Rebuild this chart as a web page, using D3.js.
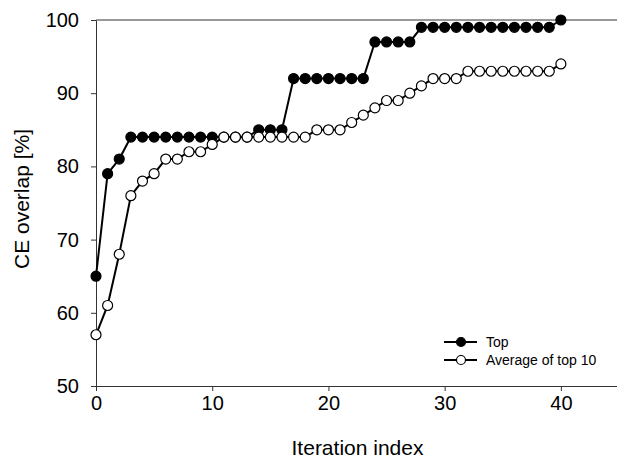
<!DOCTYPE html>
<html>
<head>
<meta charset="utf-8">
<script src="https://cdn.jsdelivr.net/npm/d3@7"></script>
<style>
  body { margin: 0; background: #fff; }
  text { font-family: "Liberation Sans", Arial, sans-serif; fill: #000; }
</style>
</head>
<body>
<div id="chart-area"></div>
<script>
// iteration index 0..40
var iterations = d3.range(0, 41);
var topValues = [65, 79, 81, 84, 84, 84, 84, 84, 84, 84, 84, 84, 84, 84, 85, 85, 85,
    92, 92, 92, 92, 92, 92, 92, 97, 97, 97, 97,
    99, 99, 99, 99, 99, 99, 99, 99, 99, 99, 99, 99, 100];
var avgValues = [57, 61, 68, 76, 78, 79, 81, 81, 82, 82, 83, 84, 84, 84, 84, 84, 84, 84, 84,
    85, 85, 85, 86, 87, 88, 89, 89, 90, 91, 92, 92, 92,
    93, 93, 93, 93, 93, 93, 93, 93, 94];
var xTicks = [0, 10, 20, 30, 40];
var yTicks = [50, 60, 70, 80, 90, 100];
var seriesNames = ["Top", "Average of top 10"];

var width = 617;
var height = 460;
var margin = {top: 20, right: -2, bottom: 74, left: 96};
var innerW = width - margin.left - margin.right;
var innerH = height - margin.top - margin.bottom;

var svg = d3.select("#chart-area")
    .append("svg")
    .attr("width", width)
    .attr("height", height);

var g = svg.append("g")
    .attr("transform", "translate(" + margin.left + ", " + margin.top + ")");

var x = d3.scaleLinear().domain([0, 45]).range([0, innerW]);
var y = d3.scaleLinear().domain([50, 100]).range([innerH, 0]);

// top frame line
g.append("line")
    .attr("x1", 0).attr("x2", innerW)
    .attr("y1", 0).attr("y2", 0)
    .attr("stroke", "#333").attr("stroke-width", 1);

var xAxis = g.append("g")
    .attr("transform", "translate(0, " + innerH + ")")
    .call(d3.axisBottom(x).tickValues(xTicks).tickSize(5).tickPadding(5).tickSizeOuter(0));
var yAxis = g.append("g")
    .call(d3.axisLeft(y).tickValues(yTicks).tickSize(5).tickPadding(12).tickSizeOuter(0));

[xAxis, yAxis].forEach(function(ax) {
    ax.select(".domain").attr("stroke", "#333");
    ax.selectAll(".tick line").attr("stroke", "#333");
    ax.selectAll(".tick text")
        .attr("font-family", "Liberation Sans, Arial, sans-serif")
        .attr("font-size", "20px")
        .attr("fill", "#000");
});

g.append("text")
    .attr("x", innerW / 2)
    .attr("y", innerH + 69)
    .attr("font-size", "21px")
    .attr("text-anchor", "middle")
    .text("Iteration index");

g.append("text")
    .attr("transform", "rotate(-90)")
    .attr("x", -(innerH / 2) + 4)
    .attr("y", -67)
    .attr("font-size", "21px")
    .attr("text-anchor", "middle")
    .text("CE overlap [%]");

var line = d3.line()
    .x(function(d, i) { return x(iterations[i]); })
    .y(function(d) { return y(d); });

function drawSeries(values, fill) {
    g.append("path")
        .datum(values)
        .attr("d", line)
        .attr("fill", "none")
        .attr("stroke", "#000")
        .attr("stroke-width", 2);
    g.append("g").selectAll("circle")
        .data(values)
        .enter().append("circle")
        .attr("cx", function(d, i) { return x(iterations[i]); })
        .attr("cy", function(d) { return y(d); })
        .attr("r", 5)
        .attr("fill", fill)
        .attr("stroke", "#000")
        .attr("stroke-width", 1.2);
}

drawSeries(topValues, "#000");
drawSeries(avgValues, "#fff");

// legend
var legend = g.append("g")
    .attr("transform", "translate(" + (444 - margin.left) + ", " + (342 - margin.top) + ")");
seriesNames.forEach(function(name, i) {
    var row = legend.append("g").attr("transform", "translate(0, " + (i * 18) + ")");
    row.append("line")
        .attr("x1", 0).attr("x2", 33)
        .attr("y1", 0).attr("y2", 0)
        .attr("stroke", "#000").attr("stroke-width", 2);
    row.append("circle")
        .attr("cx", 17).attr("cy", 0).attr("r", 4.5)
        .attr("fill", i === 0 ? "#000" : "#fff")
        .attr("stroke", "#000").attr("stroke-width", 1.2);
    row.append("text")
        .attr("x", 42).attr("y", 5)
        .attr("font-size", "14px")
        .text(name);
});
</script>
</body>
</html>
